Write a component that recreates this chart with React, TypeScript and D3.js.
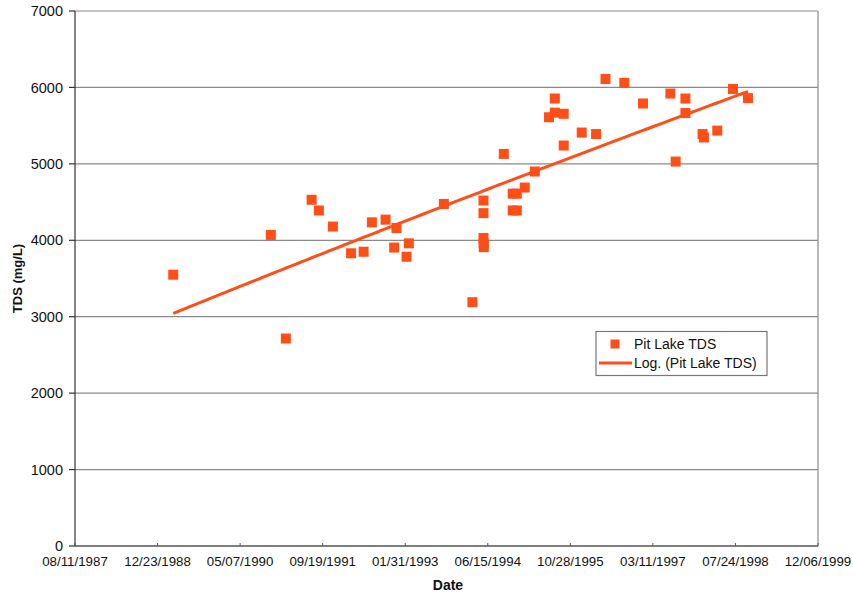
import React from 'react';
import * as d3 from 'd3';

// sample dates (mm/dd/yyyy) and TDS readings
const sampleDates = [
  '03/28/1989', '11/09/1990', '02/08/1991', '07/14/1991', '08/27/1991', '11/20/1991',
  '03/09/1992', '05/24/1992', '07/13/1992', '10/04/1992', '11/25/1992', '12/09/1992',
  '02/08/1993', '02/22/1993', '09/22/1993', '03/14/1994', '05/20/1994', '05/20/1994',
  '05/20/1994', '05/21/1994', '05/22/1994', '09/20/1994', '11/13/1994', '12/08/1994',
  '11/13/1994', '12/08/1994', '01/25/1995', '03/27/1995', '06/21/1995', '07/26/1995',
  '09/18/1995', '07/26/1995', '09/18/1995', '01/05/1996', '04/01/1996', '05/28/1996',
  '09/19/1996', '01/10/1997', '06/25/1997', '07/27/1997', '09/24/1997', '09/24/1997',
  '01/06/1998', '01/14/1998', '04/05/1998', '07/09/1998', '10/08/1998',
];
const tdsValues = [
  3550, 4070, 2715, 4530, 4390, 4180,
  3830, 3850, 4235, 4270, 3905, 4160,
  3785, 3960, 4475, 3190, 4520, 4355,
  4030, 3960, 3910, 5130, 4610, 4610,
  4390, 4390, 4690, 4900, 5610, 5670,
  5655, 5855, 5240, 5410, 5390, 6110,
  6060, 5790, 5920, 5030, 5855, 5665,
  5390, 5345, 5435, 5980, 5860,
];
const xTickLabels = [
  '08/11/1987', '12/23/1988', '05/07/1990', '09/19/1991', '01/31/1993',
  '06/15/1994', '10/28/1995', '03/11/1997', '07/24/1998', '12/06/1999',
];
const yTicks = [0, 1000, 2000, 3000, 4000, 5000, 6000, 7000];
const seriesName = 'Pit Lake TDS';
const trendName = 'Log. (Pit Lake TDS)';

const parse = d3.timeParse('%m/%d/%Y');
const ORANGE = '#ff4e17';
const FONT = '"Liberation Sans", Arial, sans-serif';

// Excel serial day number, used by its logarithmic trendline
const serial = (d: Date) => (d.getTime() - new Date(1899, 11, 30).getTime()) / 864e5;

export default function App() {
  const width = 853;
  const height = 596;
  const m = { left: 75, right: 35, top: 11, bottom: 50 };

  const points = sampleDates.map((s, i) => ({ date: parse(s) as Date, v: tdsValues[i] }));
  const tickDates = xTickLabels.map(s => parse(s) as Date);

  const x = d3.scaleTime()
    .domain([tickDates[0], tickDates[tickDates.length - 1]])
    .range([m.left, width - m.right]);
  const y = d3.scaleLinear().domain([0, 7000]).range([height - m.bottom, m.top]);

  // least squares fit v = a*ln(x) + b
  const lx = points.map(p => Math.log(serial(p.date)));
  const mx = d3.mean(lx) as number;
  const my = d3.mean(points, p => p.v) as number;
  const a = d3.sum(lx, (l, i) => (l - mx) * (points[i].v - my)) / d3.sum(lx, l => (l - mx) ** 2);
  const b = my - a * mx;
  const [d0, d1] = d3.extent(points, p => p.date) as [Date, Date];
  const trend = d3.timeDays(d0, d1, 20).concat([d1]).map(d => ({ date: d, v: a * Math.log(serial(d)) + b }));
  const trendPath = d3.line<{ date: Date; v: number }>().x(d => x(d.date)).y(d => y(d.v))(trend) || '';

  const x0 = m.left;
  const x1 = width - m.right;
  const yBottom = y(0);

  return (
    <svg width={width} height={height} style={{ position: 'absolute', left: 0, top: 0, background: '#fff' }}>
      {/* gridlines */}
      {yTicks.filter(t => t > 0).map(t => (
        <line key={t} x1={x0} x2={x1} y1={y(t)} y2={y(t)} stroke="#8a8a8a" strokeWidth={1.2} />
      ))}
      <line x1={x1} x2={x1} y1={y(7000)} y2={yBottom} stroke="#8a8a8a" strokeWidth={1.2} />
      {/* axes */}
      <line x1={x0} x2={x0} y1={y(7000)} y2={yBottom} stroke="#333" strokeWidth={1.2} />
      <line x1={x0} x2={x1} y1={yBottom} y2={yBottom} stroke="#555" strokeWidth={1.4} />
      {yTicks.map(t => (
        <g key={t}>
          <line x1={x0 - 6} x2={x0} y1={y(t)} y2={y(t)} stroke="#333" strokeWidth={1.2} />
          <text x={x0 - 12} y={y(t)} dy="0.35em" textAnchor="end" fontFamily={FONT} fontSize={14.5} fill="#111">
            {t}
          </text>
        </g>
      ))}
      {tickDates.map((d, i) => (
        <g key={i}>
          <line x1={x(d)} x2={x(d)} y1={yBottom} y2={yBottom - 3} stroke="#555" strokeWidth={1} />
          <text x={x(d)} y={yBottom + 20} textAnchor="middle" fontFamily={FONT} fontSize={13.3} fill="#111">
            {xTickLabels[i]}
          </text>
        </g>
      ))}
      <text x={448} y={590} textAnchor="middle" fontFamily={FONT} fontSize={14} fontWeight="bold" fill="#111">Date</text>
      <text transform={`translate(22,${(y(7000) + yBottom) / 2}) rotate(-90)`} textAnchor="middle"
        fontFamily={FONT} fontSize={13} fontWeight="bold" fill="#111">TDS (mg/L)</text>

      {/* data */}
      {points.map((p, i) => (
        <rect key={i} x={x(p.date) - 5} y={y(p.v) - 5} width={10} height={10} fill={ORANGE} />
      ))}
      <path d={trendPath} fill="none" stroke={ORANGE} strokeWidth={3} />

      {/* legend */}
      <g>
        <rect x={596} y={331.5} width={171} height={44} fill="#fff" stroke="#777" strokeWidth={1.2} />
        <rect x={610.5} y={339.5} width={9} height={9} fill={ORANGE} />
        <text x={634} y={349} fontFamily={FONT} fontSize={14} fill="#111">{seriesName}</text>
        <line x1={599} x2={632} y1={363} y2={363} stroke={ORANGE} strokeWidth={3} />
        <text x={634} y={368} fontFamily={FONT} fontSize={14} fill="#111">{trendName}</text>
      </g>
    </svg>
  );
}
